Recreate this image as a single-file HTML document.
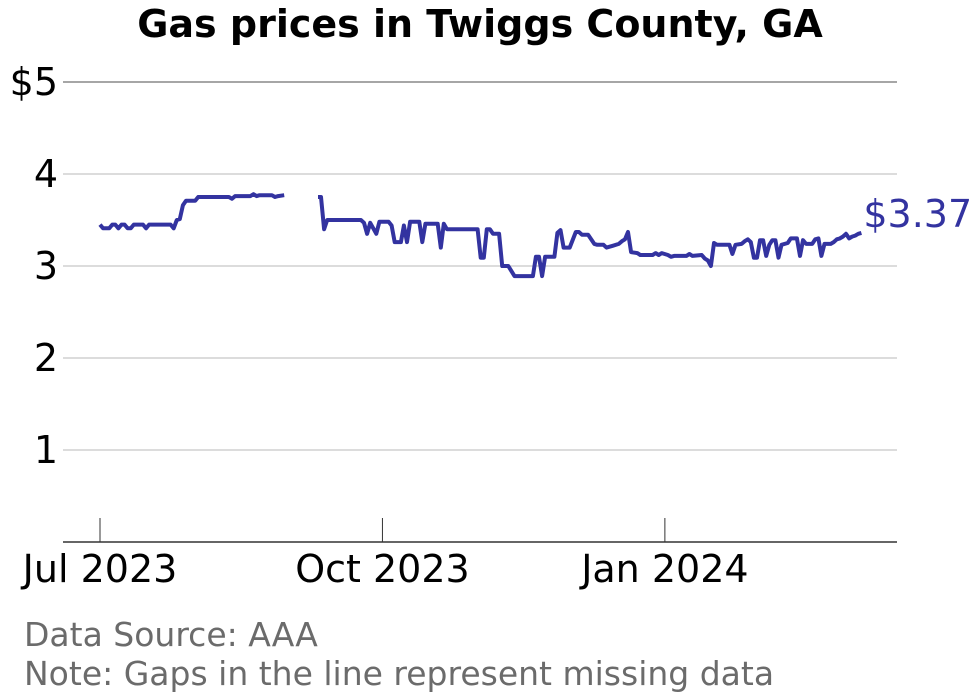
<!DOCTYPE html>
<html><head><meta charset="utf-8"><style>
html,body{margin:0;padding:0;background:#fff;}
svg{display:block;font-family:"DejaVu Sans","Liberation Sans",sans-serif;}
</style></head><body>
<svg id="chart" width="980" height="699" viewBox="0 0 980 699">
<text x="480" y="37" text-anchor="middle" font-size="38" font-weight="bold" fill="#000">Gas prices in Twiggs County, GA</text>
<g id="grid"></g>
<g id="xaxis"></g>
<path id="line" fill="none" stroke="#3333a0" stroke-width="4" stroke-linejoin="round"></path>
<text id="endlabel" font-size="38" fill="#3333a0"></text>
<text x="24" y="646" font-size="33" fill="#6b6b6b">Data Source: AAA</text>
<text x="24" y="685" font-size="33" fill="#6b6b6b">Note: Gaps in the line represent missing data</text>
</svg>
<script>
// days since 2023-07-01; null marks a gap
const days = [0,1,3,4,5,6,7,8,9,10,11,14,15,16,23,24,25,26,27,28,31,32,42,43,44,49,50,51,52,56,57,58,60,61,
71,72,73,74,85,86,87,88,90,91,94,95,96,98,99,100,101,104,105,106,110,111,112,113,123,124,125,126,127,128,130,131,133,135,141,142,143,144,145,148,149,150,151,153,155,156,157,159,161,162,164,165,167,169,170,171,172,173,175,176,180,181,182,183,185,186,187,191,192,193,196,197,198,199,200,201,205,206,207,209,210,211,212,213,214,215,216,217,218,219,220,221,222,224,225,227,228,229,230,232,233,234,235,236,238,239,240,241,242,243,244,245,246,247,248];
const prices = [3.45,3.41,3.41,3.45,3.45,3.41,3.45,3.45,3.41,3.41,3.45,3.45,3.41,3.45,3.45,3.41,3.50,3.51,3.66,3.71,3.71,3.75,3.75,3.73,3.76,3.76,3.78,3.76,3.77,3.77,3.75,3.76,3.77,null,
3.75,3.75,3.40,3.50,3.50,3.47,3.35,3.47,3.35,3.48,3.48,3.44,3.26,3.26,3.44,3.26,3.48,3.48,3.26,3.46,3.46,3.20,3.46,3.40,3.40,3.09,3.09,3.40,3.40,3.35,3.35,3.00,3.00,2.89,2.89,3.10,3.10,2.89,3.10,3.10,3.36,3.39,3.20,3.20,3.37,3.37,3.34,3.34,3.24,3.23,3.23,3.20,3.22,3.24,3.27,3.29,3.37,3.15,3.14,3.12,3.12,3.14,3.12,3.14,3.12,3.10,3.11,3.11,3.13,3.11,3.12,3.08,3.06,3.00,3.25,3.23,3.23,3.13,3.23,3.24,3.27,3.29,3.26,3.09,3.09,3.28,3.28,3.11,3.23,3.28,3.28,3.09,3.23,3.25,3.30,3.30,3.11,3.28,3.24,3.24,3.29,3.30,3.11,3.24,3.24,3.26,3.29,3.30,3.32,3.35,3.30,3.32,3.33,3.35,3.36,3.37];
const yTicks = [1,2,3,4,5];
const yTickLabels = ["1","2","3","4","$5"];
const xTickDays = [0,92,184];
const xTickLabels = ["Jul 2023","Oct 2023","Jan 2024"];
const lastLabel = "$3.37";

const NS="http://www.w3.org/2000/svg";
function xs(d){return 100 + d*3.07;}
function ys(v){return 542 - v*92;}
const grid=document.getElementById('grid');
yTicks.forEach((t,i)=>{
  const l=document.createElementNS(NS,'line');
  l.setAttribute('x1',63);l.setAttribute('x2',897);
  l.setAttribute('y1',ys(t));l.setAttribute('y2',ys(t));
  l.setAttribute('stroke',i===yTicks.length-1?'#888':'#b8b8b8');l.setAttribute('stroke-width',i===yTicks.length-1?1.5:1);
  
  
  grid.appendChild(l);
  const tx=document.createElementNS(NS,'text');
  tx.setAttribute('x',58);tx.setAttribute('y',ys(t)+13);
  tx.setAttribute('text-anchor','end');tx.setAttribute('font-size','38');
  tx.textContent=yTickLabels[i];
  
  
  grid.appendChild(tx);
});
const xa=document.getElementById('xaxis');
const base=document.createElementNS(NS,'line');
base.setAttribute('x1',63);base.setAttribute('x2',897);base.setAttribute('y1',542);base.setAttribute('y2',542);
base.setAttribute('stroke','#333');base.setAttribute('stroke-width',1.5);


xa.appendChild(base);
xTickDays.forEach((d,i)=>{
  const l=document.createElementNS(NS,'line');
  l.setAttribute('x1',xs(d));l.setAttribute('x2',xs(d));l.setAttribute('y1',518);l.setAttribute('y2',542);
  l.setAttribute('stroke','#333');l.setAttribute('stroke-width',1);
  
  
  xa.appendChild(l);
  const tx=document.createElementNS(NS,'text');
  tx.setAttribute('x',xs(d));tx.setAttribute('y',582);
  tx.setAttribute('text-anchor','middle');tx.setAttribute('font-size','38');
  tx.textContent=xTickLabels[i];
  
  
  xa.appendChild(tx);
});
let dstr='',pen=false,lx=0,ly=0;
for(let i=0;i<days.length;i++){
  if(prices[i]===null){pen=false;continue;}
  lx=xs(days[i]);ly=ys(prices[i]);
  dstr+=(pen?'L':'M')+lx.toFixed(1)+','+ly.toFixed(1);pen=true;
}
document.getElementById('line').setAttribute('d',dstr);
const el=document.getElementById('endlabel');
el.setAttribute('x',lx+2);el.setAttribute('y',ly-6);
el.textContent=lastLabel;
</script>
</body></html>
